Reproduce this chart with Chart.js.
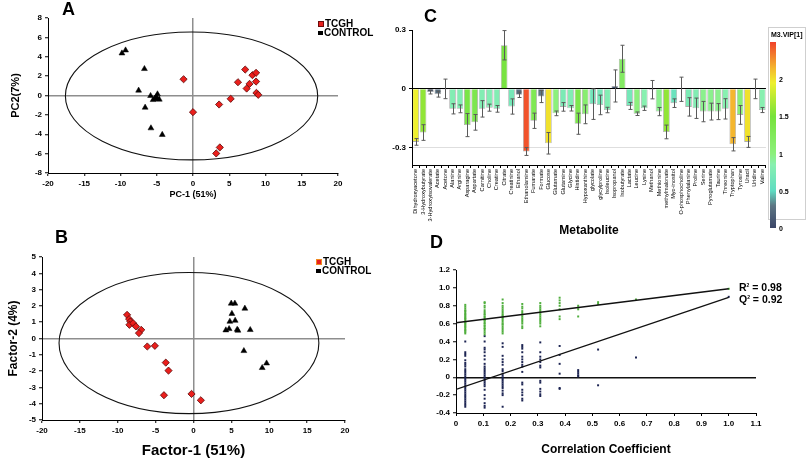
<!DOCTYPE html>
<html><head><meta charset="utf-8">
<script src="https://cdn.jsdelivr.net/npm/chart.js@4"></script>
<style>
html,body{margin:0;padding:0;background:#fff;}
#wrap{position:relative;width:808px;height:460px;overflow:hidden;font-family:'Liberation Sans',Arial,sans-serif;color:#000;}
canvas{position:absolute;}
.lbl{position:absolute;font-weight:bold;white-space:nowrap;line-height:1;}
.letter{font-size:18px;}
.leg{font-size:10px;}
.mk{display:inline-block;vertical-align:middle;margin-right:1px;}
</style></head><body>
<div id="wrap">
<canvas id="cA" width="400" height="200" style="left:0;top:0;width:400px;height:200px"></canvas>
<canvas id="cB" width="400" height="260" style="left:0;top:200px;width:400px;height:260px"></canvas>
<canvas id="cC" width="385" height="242" style="left:385px;top:0;width:385px;height:242px"></canvas>
<canvas id="cD" width="408" height="210" style="left:400px;top:250px;width:408px;height:210px"></canvas>

<div class="lbl letter" style="left:62px;top:0px">A</div>
<div class="lbl letter" style="left:55px;top:228px">B</div>
<div class="lbl letter" style="left:424px;top:7px">C</div>
<div class="lbl letter" style="left:430px;top:233px">D</div>

<div class="lbl leg" style="left:318px;top:19px"><span class="mk" style="width:4px;height:4px;background:#e8201e;border:1px solid #6a0c0c"></span>TCGH</div>
<div class="lbl leg" style="left:318px;top:28px"><span class="mk" style="width:5px;height:4px;background:#000"></span>CONTROL</div>
<div class="lbl leg" style="left:316px;top:257px"><span class="mk" style="width:4px;height:4px;background:#e8201e;border:1px solid #f08a20"></span>TCGH</div>
<div class="lbl leg" style="left:316px;top:266px"><span class="mk" style="width:5px;height:4px;background:#000"></span>CONTROL</div>

<div class="lbl" style="left:739px;top:282px;font-size:10.5px">R<sup style="font-size:5px">2</sup> = 0.98</div>
<div class="lbl" style="left:739px;top:294px;font-size:10.5px">Q<sup style="font-size:5px">2</sup> = 0.92</div>

<div id="cbox" style="position:absolute;left:768px;top:27px;width:36px;height:191px;border:1px solid #cfcfcf;background:#fff"></div>
<div id="cbar" style="position:absolute;left:770px;top:42px;width:6px;height:186px"></div>
<div class="lbl" style="left:771px;top:31px;font-size:7px">M3.VIP[1]</div>
<div id="cblabels"></div>
</div>
<script>
// ---------------- DATA ----------------
// Panel A (PCA scores)
const pcaTcgh = [[-1.3,1.68],[0,-1.72],[3.6,-0.93],[5.2,-0.34],[6.2,1.37],[7.2,2.68],[7.4,0.72],[7.8,1.2],[8.2,2.1],[8.7,2.34],[8.7,1.44],[8.75,0.27],[9.0,0.07],[3.7,-5.36],[3.2,-5.98]];
const pcaControl = [[-9.8,4.36],[-9.3,4.67],[-6.7,2.75],[-7.5,0.52],[-5.85,-0.03],[-6.6,-1.24],[-5.8,-3.37],[-4.24,-4.05],[-4.9,0.14],[-5.3,-0.34],[-4.9,-0.34],[-4.65,-0.41],[-5.1,-0.17],[-5.5,-0.45]];
const pcaEllipse = [-0.2, -0.05, 17.4, 6.6]; // cx, cy, rx, ry
// Panel B (PLS-DA scores)
const plsTcgh = [[-8.77,1.45],[-8.5,1.19],[-8.33,1.04],[-8.46,0.84],[-7.97,0.94],[-7.6,0.74],[-6.9,0.53],[-7.2,0.33],[-6.1,-0.49],[-5.1,-0.45],[-3.66,-1.48],[-3.3,-1.97],[-3.9,-3.48],[-0.26,-3.4],[0.97,-3.79]];
const plsControl = [[4.98,2.15],[5.46,2.15],[6.78,1.84],[5.07,1.52],[5.5,1.1],[4.8,1.04],[4.7,0.59],[4.27,0.51],[5.77,0.55],[5.86,0.49],[7.49,0.53],[6.65,-0.76],[9.65,-1.52],[9.07,-1.8]];
const plsEllipse = [-0.6, -0.28, 17.15, 4.33];
// Panel C (loadings with VIP colour)
const metabolites = ["Dihydroxyacetone","3-Hydroxybutyrate","3-Hydroxyisovalerate","Acetate","Acetone","Alanine","Arginine","Asparagine","Aspartate","Carnitine","Choline","Creatine","Citrate","Creatinine","Ethanol","Ethanolamine","Fumarate","Formate","Glucose","Glutamate","Glutamine","Glycine","Histidine","Hypoxanthine","glycolate","glycylproline","Isoleucine","Isopropanol","Isobutyrate","Lactate","Leucine","Lysine","Methanol","Methionine","methylmalonate","Myo-inositol","O-phosphocholine","Phenylalanine","Proline","Serine","Pyroglutamate","Taurine","Threonine","Tryptophan","Tyrosine","Uracil","Uridine","Valine"];
const loadings = [-0.272,-0.224,-0.017,-0.028,-0.001,-0.103,-0.103,-0.186,-0.172,-0.103,-0.097,-0.103,0.222,-0.091,-0.031,-0.321,-0.164,-0.040,-0.279,-0.126,-0.093,-0.100,-0.179,-0.131,-0.079,-0.083,-0.109,0.014,0.153,-0.088,-0.128,-0.100,-0.005,-0.117,-0.221,-0.074,-0.003,-0.093,-0.100,-0.117,-0.117,-0.117,-0.103,-0.284,-0.134,-0.272,-0.001,-0.109];
const loadErr = [0.017,0.04,0.01,0.015,0.05,0.026,0.02,0.059,0.04,0.042,0.018,0.017,0.075,0.039,0.014,0.02,0.039,0.031,0.055,0.012,0.022,0.014,0.054,0.048,0.078,0.05,0.014,0.082,0.069,0.018,0.009,0.011,0.047,0.021,0.035,0.022,0.062,0.047,0.052,0.052,0.043,0.041,0.052,0.034,0.048,0.028,0.05,0.013];
const vip = [1.95,1.6,0.1,0.25,0.05,0.8,0.8,1.4,1.35,0.8,0.8,0.8,1.45,0.7,0.25,2.45,1.3,0.3,2.0,1.0,0.75,0.8,1.35,1.1,0.65,0.7,0.8,0.1,1.2,0.7,1.0,0.85,0.05,0.95,1.6,0.6,0.05,0.75,0.8,0.95,0.95,0.95,0.85,2.15,1.05,2.0,0.05,0.85];
const loadTicks = [-0.3, 0, 0.3];
const vipTicks = [0, 0.5, 1, 1.5, 2];
// Panel D (permutation test)
const corrX = [0.034,0.105,0.171,0.243,0.309,0.38,0.448,0.521,0.66,1.0];
const r2Perm = [
 [0.49,0.505,0.52,0.53,0.545,0.56,0.57,0.585,0.6,0.61,0.62,0.635,0.65,0.66,0.67,0.685,0.7,0.71,0.725,0.74,0.75,0.77,0.79,0.81],
 [0.48,0.5,0.52,0.54,0.55,0.57,0.58,0.6,0.61,0.63,0.64,0.65,0.67,0.68,0.7,0.71,0.73,0.75,0.78,0.8,0.83,0.84],
 [0.49,0.51,0.53,0.55,0.57,0.59,0.6,0.62,0.64,0.66,0.67,0.69,0.7,0.72,0.74,0.76,0.78,0.8,0.83,0.87],
 [0.55,0.57,0.6,0.62,0.64,0.66,0.68,0.7,0.72,0.74,0.77,0.79,0.82],
 [0.57,0.6,0.62,0.64,0.66,0.68,0.7,0.72,0.74,0.76,0.78,0.8,0.83],
 [0.65,0.68,0.76,0.8,0.83,0.86,0.89],
 [0.68,0.76,0.78,0.8],
 [0.82,0.84],
 [0.87],
 [0.99]];
const q2Perm = [
 [-0.33,-0.31,-0.29,-0.27,-0.25,-0.23,-0.21,-0.19,-0.17,-0.15,-0.13,-0.11,-0.09,-0.07,-0.05,-0.03,-0.01,0.01,0.03,0.05,0.07,0.09,0.12,0.14,0.16,0.19,0.24,0.26,0.28,0.40],
 [-0.34,-0.32,-0.29,-0.24,-0.2,-0.14,-0.1,-0.08,-0.06,-0.04,-0.02,0,0.02,0.04,0.06,0.08,0.1,0.12,0.15,0.2,0.24,0.28,0.31,0.33,0.4,0.46],
 [-0.33,-0.2,-0.18,-0.15,-0.12,-0.1,-0.08,-0.06,-0.04,-0.02,0.0,0.02,0.04,0.07,0.09,0.14,0.17,0.2,0.24,0.34,0.38],
 [-0.26,-0.24,-0.2,-0.17,-0.14,-0.08,-0.06,0.06,0.12,0.14,0.17,0.2,0.23,0.28,0.32,0.34,0.36],
 [-0.21,-0.19,-0.16,-0.13,-0.06,-0.04,0.11,0.13,0.17,0.2,0.23,0.28,0.39],
 [-0.13,-0.12,0.04,0.15,0.25,0.35],
 [0.01,0.02,0.04,0.06,0.08],
 [-0.09,0.31],
 [0.22],
 [0.9]];
const r2LineEnds = [0.61, 0.99];  // y at x=0 and x=1
const q2LineEnds = [-0.135, 0.895];

// ---------------- STYLE HELPERS ----------------
Chart.defaults.font.family = "'Liberation Sans', Arial, sans-serif";
Chart.defaults.font.size = 8;
Chart.defaults.font.weight = 'bold';
Chart.defaults.color = '#000';
Chart.defaults.animation = false;

const colorStops = [[0,'#3b4668'],[0.3,'#5d7684'],[0.5,'#5fdcc2'],[0.85,'#88f0b0'],[1.0,'#8cf07c'],[1.5,'#76e23a'],[1.95,'#eef02c'],[2.15,'#f4b62e'],[2.5,'#f0422a']];
const vipMax = 2.5;
function hex(h){return [parseInt(h.slice(1,3),16),parseInt(h.slice(3,5),16),parseInt(h.slice(5,7),16)];}
function vipColor(v){
  for(let i=1;i<colorStops.length;i++){
    if(v<=colorStops[i][0]){
      const a=colorStops[i-1], b=colorStops[i], t=(v-a[0])/(b[0]-a[0]);
      const ca=hex(a[1]), cb=hex(b[1]);
      return 'rgb('+ca.map((c,k)=>Math.round(c+(cb[k]-c)*t)).join(',')+')';
    }
  }
  return colorStops[colorStops.length-1][1];
}
const toPts = arr => arr.map(p => ({x:p[0], y:p[1]}));
const zeroGrid = (col, w) => ({
  color: c => (c.tick && c.tick.value === 0) ? col : 'rgba(0,0,0,0)',
  lineWidth: w, tickColor:'#000', tickWidth:1, tickLength:3, drawTicks:true
});

const ellipsePlugin = {
  id:'ellipse',
  beforeDatasetsDraw(chart, args, o){
    if(!o || !o.e) return;
    const xs=chart.scales.x, ys=chart.scales.y, ctx=chart.ctx, e=o.e;
    const cx=xs.getPixelForValue(e[0]), cy=ys.getPixelForValue(e[1]);
    const rx=Math.abs(xs.getPixelForValue(e[0]+e[2])-cx), ry=Math.abs(ys.getPixelForValue(e[1]+e[3])-cy);
    ctx.save(); ctx.beginPath(); ctx.ellipse(cx,cy,rx,ry,0,0,Math.PI*2);
    ctx.strokeStyle='#111'; ctx.lineWidth=1.1; ctx.stroke(); ctx.restore();
  }
};

function scoreChart(id, tc, co, ell, xt, yt, ymin, ymax, ystep, pad, yw, xh, xtSize, ytSize, ytPad){
  return new Chart(document.getElementById(id), {
    type:'scatter',
    data:{datasets:[
      {label:'TCGH', data:toPts(tc), pointStyle:'rectRot', pointRadius:3.6, backgroundColor:'#ea1f1c', borderColor:'#5a0a0a', borderWidth:0.8},
      {label:'CONTROL', data:toPts(co), pointStyle:'triangle', pointRadius:3.4, backgroundColor:'#000', borderColor:'#000', borderWidth:0.5}
    ]},
    options:{
      responsive:false, animation:false,
      layout:{padding:pad},
      plugins:{legend:{display:false}, tooltip:{enabled:false}, ellipse:{e:ell}},
      scales:{
        x:{type:'linear', min:-20, max:20, ticks:{stepSize:5, padding:3},
           grid:zeroGrid('#8e8e8e',1.5), border:{color:'#000',width:1},
           title:{display:true, text:xt, font:{size:xtSize, weight:'bold'}, padding:{top:0,bottom:0}},
           afterFit:s=>{s.height=xh;}},
        y:{type:'linear', min:ymin, max:ymax, ticks:{stepSize:ystep, padding:3},
           grid:zeroGrid('#8e8e8e',1.5), border:{color:'#000',width:1},
           title:{display:true, text:yt, font:{size:ytSize, weight:'bold'}, padding:{top:ytPad,bottom:0}},
           afterFit:s=>{s.width=yw;}}
      }
    },
    plugins:[ellipsePlugin]
  });
}

scoreChart('cA', pcaTcgh, pcaControl, pcaEllipse, 'PC-1 (51%)', 'PC2(7%)', -8, 8, 2, {left:0,top:18,right:62,bottom:0}, 48, 27, 9, 11, 9);
scoreChart('cB', plsTcgh, plsControl, plsEllipse, 'Factor-1 (51%)', 'Factor-2 (4%)', -5, 5, 1, {left:0,top:57,right:55,bottom:0}, 42, 40, 15, 12, 6);

// ---------------- PANEL C ----------------
const errPlugin = {
  id:'errbars',
  afterDatasetsDraw(chart){
    const meta=chart.getDatasetMeta(0), ys=chart.scales.y, ctx=chart.ctx;
    ctx.save(); ctx.strokeStyle='#5a5a5a'; ctx.lineWidth=1;
    meta.data.forEach((bar,i)=>{
      const v=loadings[i], e=loadErr[i];
      const x=Math.round(bar.x)+0.5, y1=ys.getPixelForValue(v+e), y2=ys.getPixelForValue(v-e);
      ctx.beginPath(); ctx.moveTo(x,y1); ctx.lineTo(x,y2);
      ctx.moveTo(x-2,y1); ctx.lineTo(x+2,y1); ctx.moveTo(x-2,y2); ctx.lineTo(x+2,y2); ctx.stroke();
    });
    ctx.restore();
  }
};
new Chart(document.getElementById('cC'), {
  type:'bar',
  data:{labels:metabolites, datasets:[{data:loadings, backgroundColor:vip.map(vipColor), borderColor:'rgba(70,70,70,0.45)', borderWidth:0.8, barPercentage:0.9, categoryPercentage:1.0}]},
  options:{
    responsive:false, animation:false,
    layout:{padding:{left:0,top:30,right:2,bottom:0}},
    plugins:{legend:{display:false}, tooltip:{enabled:false}},
    scales:{
      x:{ticks:{autoSkip:false, maxRotation:90, minRotation:90, padding:1, font:{size:5.6, weight:'normal'}},
         grid:{drawOnChartArea:false, color:'#000', tickLength:3}, border:{color:'#000',width:1},
         title:{display:true, text:'Metabolite', font:{size:12, weight:'bold'}, padding:{top:0,bottom:4}},
         afterFit:s=>{s.height=77;}},
      y:{min:-0.39, max:0.3,
         afterBuildTicks:s=>{s.ticks=loadTicks.map(v=>({value:v}));},
         ticks:{padding:3},
         grid:{color:c=>(c.tick&&c.tick.value===0)?'#000':((c.tick&&c.tick.value===-0.3)?'#dedede':'rgba(0,0,0,0)'), lineWidth:1, tickColor:'#000', tickLength:3},
         border:{color:'#000',width:1},
         afterFit:s=>{s.width=27;}}
    }
  },
  plugins:[errPlugin]
});

// colour bar
(function(){
  const stops = colorStops.map(s=>s[1]+' '+(s[0]/vipMax*100).toFixed(1)+'%').join(',');
  document.getElementById('cbar').style.background = 'linear-gradient(to top,'+stops+')';
  const top=42, h=186, box=document.getElementById('cblabels');
  vipTicks.forEach(v=>{
    const d=document.createElement('div'); d.className='lbl'; d.style.fontSize='7px';
    d.style.left='779px'; d.style.top=(top+h-(v/vipMax)*h-3)+'px'; d.textContent=String(v);
    box.appendChild(d);
  });
})();

// ---------------- PANEL D ----------------
const greenPts=[], navyPts=[];
corrX.forEach((x,i)=>{ r2Perm[i].forEach(y=>greenPts.push({x,y})); q2Perm[i].forEach(y=>navyPts.push({x,y})); });
new Chart(document.getElementById('cD'), {
  type:'scatter',
  data:{datasets:[
    {data:[{x:0,y:r2LineEnds[0]},{x:1,y:r2LineEnds[1]}], showLine:true, pointRadius:0, borderColor:'#111', borderWidth:1.3},
    {data:[{x:0,y:q2LineEnds[0]},{x:1,y:q2LineEnds[1]}], showLine:true, pointRadius:0, borderColor:'#111', borderWidth:1.3},
    {data:greenPts, pointRadius:1.4, pointStyle:'rect', backgroundColor:'#4fae3c', borderWidth:0},
    {data:navyPts, pointRadius:1.4, pointStyle:'rect', backgroundColor:'#1c2452', borderWidth:0}
  ]},
  options:{
    responsive:false, animation:false,
    layout:{padding:{left:0,top:20,right:52,bottom:0}},
    plugins:{legend:{display:false}, tooltip:{enabled:false}},
    scales:{
      x:{type:'linear', min:0, max:1.1, ticks:{stepSize:0.1, padding:3},
         grid:{color:'rgba(0,0,0,0)', tickColor:'#000', tickLength:3}, border:{color:'#000',width:1},
         title:{display:true, text:'Correlation Coefficient', font:{size:12, weight:'bold'}, padding:{top:0,bottom:3}},
         afterFit:s=>{s.height=47;}},
      y:{type:'linear', min:-0.4, max:1.2, ticks:{stepSize:0.2, padding:3},
         grid:zeroGrid('#111',1.5), border:{color:'#000',width:1},
         afterFit:s=>{s.width=56;}}
    }
  }
});
</script>
</body></html>
